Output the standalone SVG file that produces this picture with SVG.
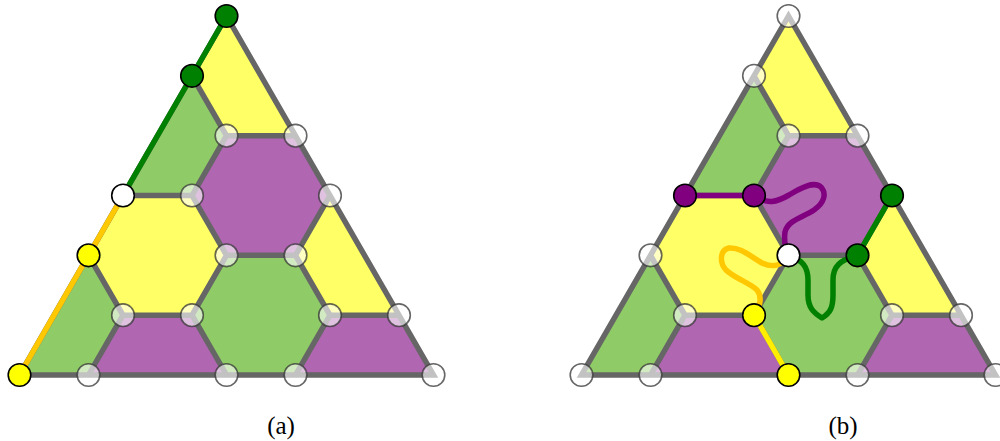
<svg xmlns="http://www.w3.org/2000/svg" width="1000" height="441" viewBox="0 0 1000 441">
<defs>
<style>
.y{fill:#ffff66}.g{fill:#8fcb66}.p{fill:#b066b0}
.edge{fill:none;stroke:#666;stroke-width:5.5;stroke-linejoin:miter}
.gc{fill:#fff;fill-opacity:0.6;stroke:#333;stroke-opacity:0.75;stroke-width:1.6}
.cc{stroke:#000;stroke-width:1.6}
.wl{fill:none;stroke-width:5.5;stroke-linecap:round;stroke-linejoin:round}
.lbl{font-family:"Liberation Serif","Times New Roman",serif;font-size:25px;fill:#000;text-anchor:middle}
</style>
<g id="lattice">
<polygon class="y" points="226.5,16 192,75.8 226.5,135.7 295.5,135.7"/>
<polygon class="g" points="192,75.8 226.5,135.7 192,195.5 123,195.5"/>
<polygon class="p" points="226.5,135.7 295.5,135.7 330,195.5 295.5,255.3 226.5,255.3 192,195.5"/>
<polygon class="y" points="123,195.5 192,195.5 226.5,255.3 192,315.2 123,315.2 88.5,255.3"/>
<polygon class="y" points="330,195.5 399,315.2 330,315.2 295.5,255.3"/>
<polygon class="g" points="88.5,255.3 123,315.2 88.5,375 19.5,375"/>
<polygon class="p" points="123,315.2 192,315.2 226.5,375 88.5,375"/>
<polygon class="g" points="226.5,255.3 295.5,255.3 330,315.2 295.5,375 226.5,375 192,315.2"/>
<polygon class="p" points="330,315.2 399,315.2 433.5,375 295.5,375"/>
<path class="edge" d="M226.5 16 L19.5 375 L433.5 375 Z M192 75.8 L226.5 135.7 L295.5 135.7 M226.5 135.7 L192 195.5 L123 195.5 M192 195.5 L226.5 255.3 L295.5 255.3 L330 195.5 M88.5 255.3 L123 315.2 L192 315.2 L226.5 255.3 M123 315.2 L88.5 375 M192 315.2 L226.5 375 M295.5 255.3 L330 315.2 L399 315.2 M330 315.2 L295.5 375"/>
</g>
</defs>

<g id="panel-a">
<use href="#lattice"/>
<g id="connectors-a">
<path class="wl" stroke="#008000" stroke-linecap="butt" d="M226.5 16 L123 195.5"/>
<path class="wl" stroke="#ffc800" stroke-linecap="butt" d="M123 195.5 L19.5 375"/>
</g>
<g id="a-n-apex"><circle class="cc" fill="#008000" cx="226.5" cy="16" r="11.3"/></g>
<g id="a-n-1"><circle class="cc" fill="#008000" cx="192" cy="75.8" r="11.3"/></g>
<g id="a-n-2a"><circle class="gc" cx="226.5" cy="135.7" r="11.3"/></g>
<g id="a-n-2b"><circle class="gc" cx="295.5" cy="135.7" r="11.3"/></g>
<g id="a-n-3a"><circle class="cc" fill="#fff" cx="123" cy="195.5" r="11.3"/></g>
<g id="a-n-3b"><circle class="gc" cx="192" cy="195.5" r="11.3"/></g>
<g id="a-n-3c"><circle class="gc" cx="330" cy="195.5" r="11.3"/></g>
<g id="a-n-4a"><circle class="cc" fill="#ffff00" cx="88.5" cy="255.3" r="11.3"/></g>
<g id="a-n-4b"><circle class="gc" cx="226.5" cy="255.3" r="11.3"/></g>
<g id="a-n-4c"><circle class="gc" cx="295.5" cy="255.3" r="11.3"/></g>
<g id="a-n-5a"><circle class="gc" cx="123" cy="315.2" r="11.3"/></g>
<g id="a-n-5b"><circle class="gc" cx="192" cy="315.2" r="11.3"/></g>
<g id="a-n-5c"><circle class="gc" cx="330" cy="315.2" r="11.3"/></g>
<g id="a-n-5d"><circle class="gc" cx="399" cy="315.2" r="11.3"/></g>
<g id="a-n-6a"><circle class="cc" fill="#ffff00" cx="19.5" cy="375" r="11.3"/></g>
<g id="a-n-6b"><circle class="gc" cx="88.5" cy="375" r="11.3"/></g>
<g id="a-n-6c"><circle class="gc" cx="226.5" cy="375" r="11.3"/></g>
<g id="a-n-6d"><circle class="gc" cx="295.5" cy="375" r="11.3"/></g>
<g id="a-n-6e"><circle class="gc" cx="433.5" cy="375" r="11.3"/></g>
<text class="lbl" x="281" y="434">(a)</text>
</g>

<g id="panel-b" transform="translate(562,0)">
<use href="#lattice"/>
<g id="connectors-b">
<path class="wl" stroke="#800080" stroke-linecap="butt" d="M123 195.5 L192 195.5"/>
<path class="wl" stroke="#800080" d="M192 195.5 C205 205,215 202,227 195 C240 187,252 181,259 187 C265 194,262 203,252 210 C240 218,226 220,223 232 C222 240,223 248,226.5 255.3"/>
<path class="wl" stroke="#008000" stroke-linecap="butt" d="M330 195.5 L295.5 255.3"/>
<path class="wl" stroke="#008000" d="M226.5 255.3 C240 260,246 266,246 280 L246 295 C246 308,252 313,260 318 C268 313,271 308,271 295 L271 280 C271 266,278 260,295.5 255.3"/>
<path class="wl" stroke="#ffc800" d="M226.5 255.3 C220 266,210 268,200 263 C188 256,178 247,167 248 C158 250,157 262,164 270 C172 278,188 283,195 290 C200 296,199 306,192 315.2"/>
<path class="wl" stroke="#ffee00" stroke-linecap="butt" d="M192 315.2 L226.5 375"/>
</g>
<g id="b-n-apex"><circle class="gc" cx="226.5" cy="16" r="11.3"/></g>
<g id="b-n-1"><circle class="gc" cx="192" cy="75.8" r="11.3"/></g>
<g id="b-n-2a"><circle class="gc" cx="226.5" cy="135.7" r="11.3"/></g>
<g id="b-n-2b"><circle class="gc" cx="295.5" cy="135.7" r="11.3"/></g>
<g id="b-n-3a"><circle class="cc" fill="#800080" cx="123" cy="195.5" r="11.3"/></g>
<g id="b-n-3b"><circle class="cc" fill="#800080" cx="192" cy="195.5" r="11.3"/></g>
<g id="b-n-3c"><circle class="cc" fill="#008000" cx="330" cy="195.5" r="11.3"/></g>
<g id="b-n-4a"><circle class="gc" cx="88.5" cy="255.3" r="11.3"/></g>
<g id="b-n-4b"><circle class="cc" fill="#fff" cx="226.5" cy="255.3" r="11.3"/></g>
<g id="b-n-4c"><circle class="cc" fill="#008000" cx="295.5" cy="255.3" r="11.3"/></g>
<g id="b-n-5a"><circle class="gc" cx="123" cy="315.2" r="11.3"/></g>
<g id="b-n-5b"><circle class="cc" fill="#ffff00" cx="192" cy="315.2" r="11.3"/></g>
<g id="b-n-5c"><circle class="gc" cx="330" cy="315.2" r="11.3"/></g>
<g id="b-n-5d"><circle class="gc" cx="399" cy="315.2" r="11.3"/></g>
<g id="b-n-6a"><circle class="gc" cx="19.5" cy="375" r="11.3"/></g>
<g id="b-n-6b"><circle class="gc" cx="88.5" cy="375" r="11.3"/></g>
<g id="b-n-6c"><circle class="cc" fill="#ffff00" cx="226.5" cy="375" r="11.3"/></g>
<g id="b-n-6d"><circle class="gc" cx="295.5" cy="375" r="11.3"/></g>
<g id="b-n-6e"><circle class="gc" cx="433.5" cy="375" r="11.3"/></g>
<text class="lbl" x="281" y="434">(b)</text>
</g>
</svg>
